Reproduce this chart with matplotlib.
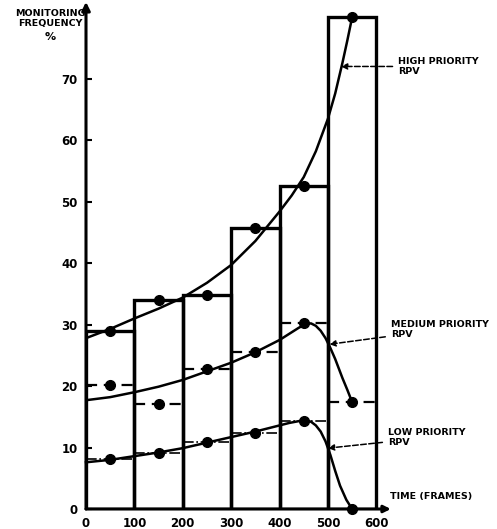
import matplotlib.pyplot as plt

# histogram bins (frames) and measured monitoring frequency per bin (%)
bin_left = [0, 100, 200, 300, 400, 500]
bin_mid = [50, 150, 250, 350, 450, 550]
high = [29, 34, 34.8, 45.7, 52.5, 80]
medium = [20.2, 17.1, 22.8, 25.5, 30.3, 17.4]
low = [8.1, 9.1, 10.9, 12.4, 14.3, 0]

# fitted curves
high_cx = [0, 50, 100, 150, 200, 250, 300, 350, 400, 425, 450, 475, 500, 515, 530, 540, 550]
high_cy = [27.8, 29.3, 31, 32.6, 34.4, 36.8, 39.7, 43.6, 48.4, 51, 54, 58.2, 63.5, 67.6, 72.6, 76.2, 80]
med_cx = [0, 50, 100, 150, 200, 250, 300, 350, 400, 420, 440, 455, 465, 475, 485, 495, 505, 515, 530, 540, 550]
med_cy = [17.7, 18.2, 19, 19.9, 21, 22.4, 23.8, 25.5, 27.5, 28.5, 29.5, 30.1, 30.2, 29.8, 29, 27.8,
          26.2, 24.4, 21.3, 19.4, 17.4]
low_cx = [0, 50, 100, 150, 200, 250, 300, 350, 400, 420, 440, 455, 465, 475, 485, 495, 505, 515, 525, 538, 550]
low_cy = [7.6, 8, 8.6, 9.2, 9.9, 10.8, 11.7, 12.6, 13.6, 14, 14.3, 14.4, 14.2, 13.6, 12.6, 11,
          8.8, 6.2, 3.8, 1.5, 0]

xticks = [0, 100, 200, 300, 400, 500, 600]
xlabels = ['0', '100', '200', '300', '400', '500', '600']
yticks = [0, 10, 20, 30, 40, 50, 60, 70]
ylabels = ['0', '10', '20', '30', '40', '50', '60', '70']

plt.rcParams['font.family'] = 'DejaVu Sans'
plt.rcParams['font.weight'] = 'bold'

fig = plt.figure(figsize=(4.97, 5.29), dpi=100)
ax = fig.add_axes([86/497, 20/529, 300/497, 504/529])
ax.set_xlim(0, 620)
ax.set_ylim(0, 82)
for s in ax.spines.values():
    s.set_visible(False)

# bars as outlines
ax.bar(bin_left, high, width=100, align='edge', fill=False, edgecolor='black', linewidth=2.4)

# measured points
ax.plot(bin_mid, high, 'o', color='black', ms=7)
for l, v in zip(bin_left, medium):
    ax.plot([l, l + 100], [v, v], '--', color='black', lw=1.6, dashes=(5, 3))
ax.plot(bin_mid, medium, 'o', color='black', ms=7)
for l, v in zip(bin_left, low):
    ax.plot([l, l + 100], [v, v], '-.', color='black', lw=1.2)
ax.plot(bin_mid, low, 'o', color='black', ms=7, clip_on=False)

# fitted curves
ax.plot(high_cx, high_cy, color='black', lw=1.8)
ax.plot(med_cx, med_cy, color='black', lw=1.8)
ax.plot(low_cx, low_cy, color='black', lw=1.8, clip_on=False)

# axes with arrows
ax.annotate('', xy=(0, 82.5), xytext=(0, 0), annotation_clip=False,
            arrowprops=dict(arrowstyle='-|>', color='black', lw=2.2, mutation_scale=12, shrinkA=0, shrinkB=0))
ax.annotate('', xy=(630, 0), xytext=(0, 0), annotation_clip=False,
            arrowprops=dict(arrowstyle='-|>', color='black', lw=2.2, mutation_scale=10, shrinkA=0, shrinkB=0))

ax.set_xticks(xticks)
ax.set_xticklabels(xlabels)
ax.set_yticks(yticks)
ax.set_yticklabels(ylabels)
ax.tick_params(axis='x', length=0, pad=6, labelsize=8.5)
ax.tick_params(axis='y', length=4, width=1.5, direction='in', pad=6, labelsize=8.5)

# curve labels
arrow = dict(arrowstyle='-|>', color='black', lw=1.1, linestyle='--', mutation_scale=9, shrinkA=2, shrinkB=0)
ax.annotate('HIGH PRIORITY\nRPV', xy=(527, 72), xytext=(645, 72), fontsize=6.8,
            va='center', ha='left', linespacing=1.1, arrowprops=arrow, annotation_clip=False)
ax.annotate('MEDIUM PRIORITY\nRPV', xy=(503, 26.8), xytext=(630, 29.2), fontsize=6.8,
            va='center', ha='left', linespacing=1.1, arrowprops=arrow, annotation_clip=False)
ax.annotate('LOW PRIORITY\nRPV', xy=(500, 9.9), xytext=(624, 11.6), fontsize=6.8,
            va='center', ha='left', linespacing=1.1, arrowprops=arrow, annotation_clip=False)
ax.text(628, 2.0, 'TIME (FRAMES)', fontsize=6.8, va='center', ha='left')

fig.text(50/497, 1 - 9/529, 'MONITORING\nFREQUENCY', fontsize=6.8, ha='center', va='top',
         linespacing=1.1)
fig.text(50/497, 1 - 37/529, '%', fontsize=8, ha='center', va='center')

fig.savefig('out.png', dpi=100)
